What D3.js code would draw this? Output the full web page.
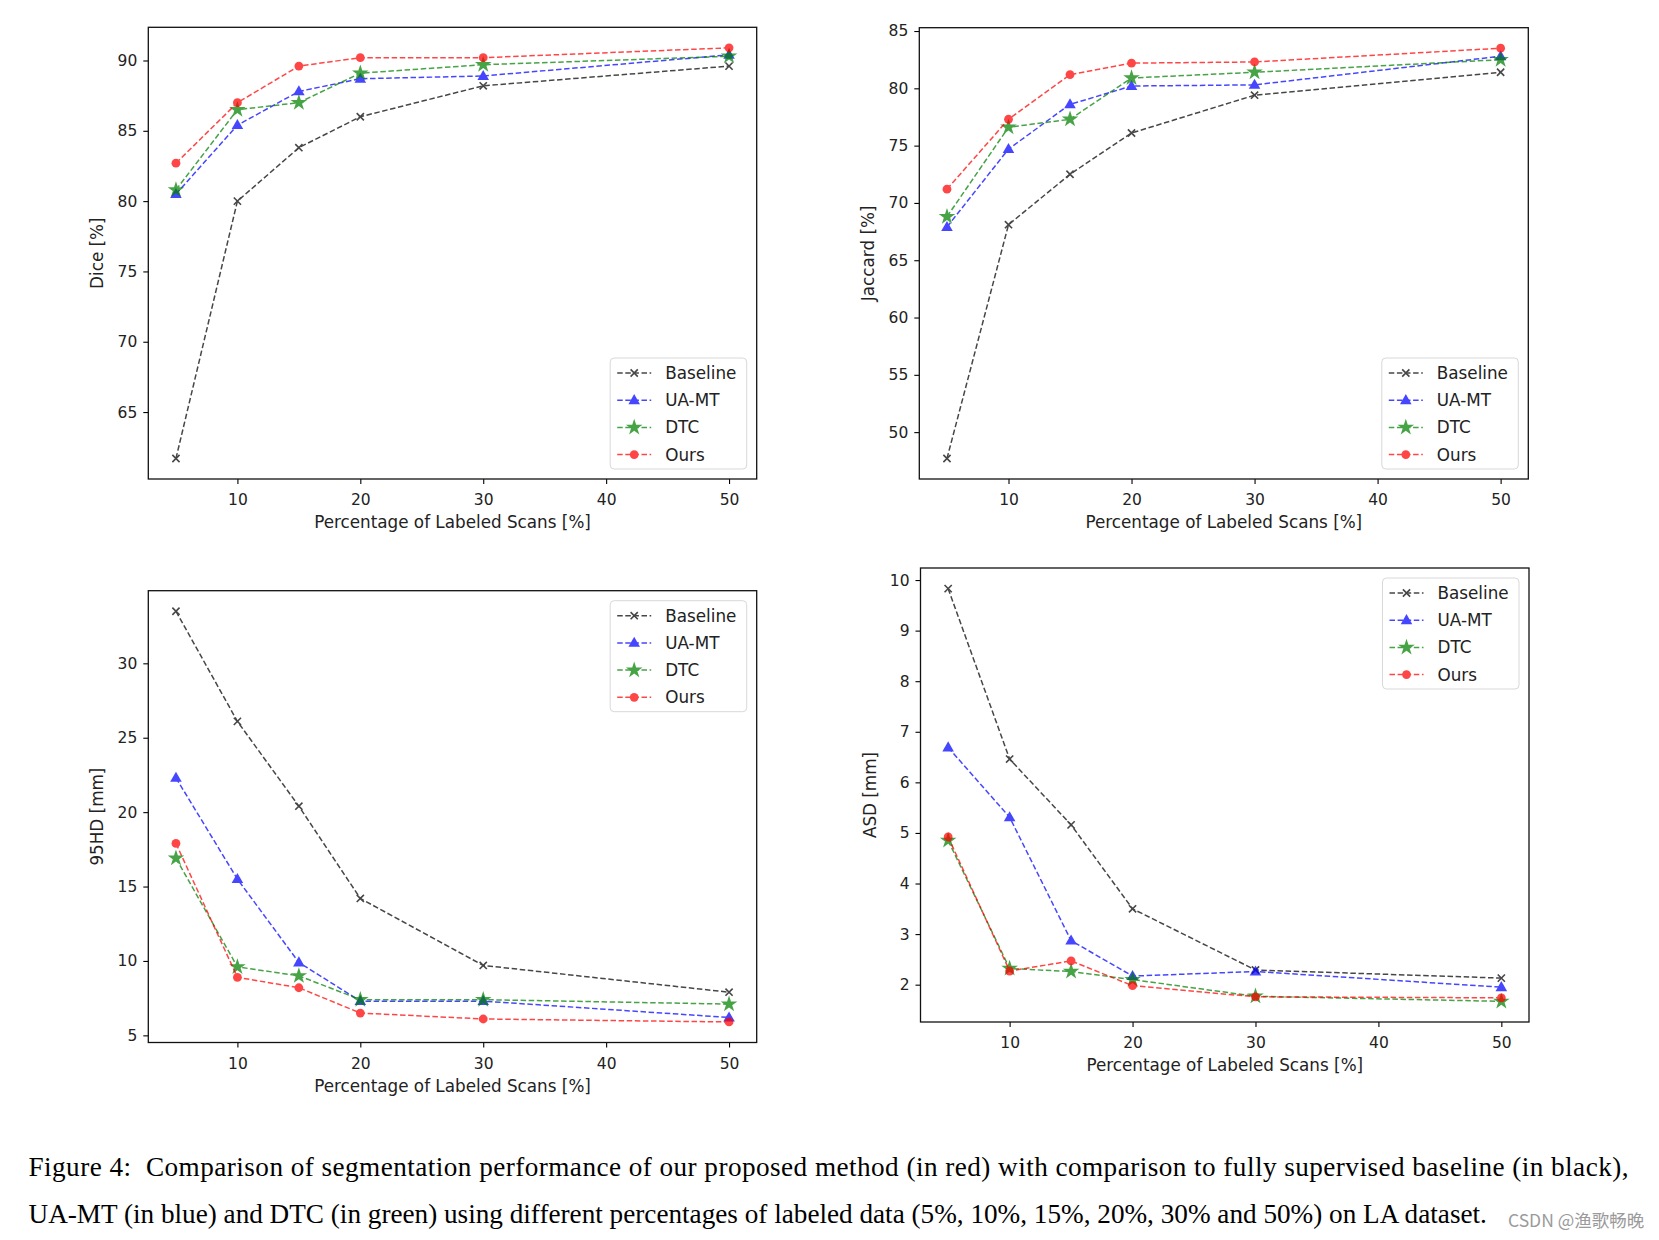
<!DOCTYPE html>
<html>
<head>
<meta charset="utf-8">
<script src="https://cdn.jsdelivr.net/npm/d3@7"></script>
<style>
  html, body { margin: 0; padding: 0; background: #fff; }
  svg { display: block; }
</style>
</head>
<body>
<svg id="chart" width="1659" height="1240"></svg>
<script>
// ---------------- DATA ----------------
const xValues = [5, 10, 15, 20, 30, 50];
const xTicks = [10, 20, 30, 40, 50];
const seriesNames = ["Baseline", "UA-MT", "DTC", "Ours"];

const diceBaseline = [61.7, 80.0, 83.8, 86.0, 88.2, 89.6];
const diceUAMT     = [80.5, 85.4, 87.8, 88.7, 88.9, 90.4];
const diceDTC      = [80.8, 86.5, 87.0, 89.1, 89.7, 90.3];
const diceOurs     = [82.7, 87.0, 89.6, 90.2, 90.2, 90.9];
const diceTicks    = [65, 70, 75, 80, 85, 90];

const jacBaseline = [47.7, 68.1, 72.5, 76.1, 79.4, 81.4];
const jacUAMT     = [67.9, 74.7, 78.6, 80.2, 80.3, 82.8];
const jacDTC      = [68.8, 76.6, 77.3, 80.9, 81.4, 82.5];
const jacOurs     = [71.2, 77.3, 81.2, 82.2, 82.3, 83.5];
const jacTicks    = [50, 55, 60, 65, 70, 75, 80, 85];

const hdBaseline = [33.5, 26.1, 20.4, 14.2, 9.7, 7.9];
const hdUAMT     = [22.3, 15.5, 9.9, 7.3, 7.3, 6.2];
const hdDTC      = [16.9, 9.6, 9.0, 7.4, 7.4, 7.1];
const hdOurs     = [17.9, 8.9, 8.2, 6.5, 6.1, 5.9];
const hdTicks    = [5, 10, 15, 20, 25, 30];

const asdBaseline = [9.83, 6.46, 5.16, 3.50, 2.29, 2.13];
const asdUAMT     = [6.69, 5.31, 2.87, 2.17, 2.26, 1.95];
const asdDTC      = [4.85, 2.32, 2.26, 2.10, 1.77, 1.67];
const asdOurs     = [4.92, 2.27, 2.47, 1.98, 1.76, 1.74];
const asdTicks    = [2, 3, 4, 5, 6, 7, 8, 9, 10];

const xLabel = "Percentage of Labeled Scans [%]";
const captionLine1 = "Figure 4:  Comparison of segmentation performance of our proposed method (in red) with comparison to fully supervised baseline (in black),";
const captionLine2 = "UA-MT (in blue) and DTC (in green) using different percentages of labeled data (5%, 10%, 15%, 20%, 30% and 50%) on LA dataset.";
const watermark = "CSDN @渔歌畅晚";

// ---------------- STYLE ----------------
const styles = [
  { color: "#000000", marker: "x" },
  { color: "#0000ff", marker: "tri" },
  { color: "#008000", marker: "star" },
  { color: "#ff0000", marker: "circle" }
];

const panels = [
  { box: [148.3, 27.3, 756.7, 479], yLabel: "Dice [%]", series: [diceBaseline, diceUAMT, diceDTC, diceOurs], yTicks: diceTicks, legend: "br" },
  { box: [919.3, 27.7, 1528.3, 479], yLabel: "Jaccard [%]", series: [jacBaseline, jacUAMT, jacDTC, jacOurs], yTicks: jacTicks, legend: "br" },
  { box: [148.3, 590.7, 756.7, 1042.5], yLabel: "95HD [mm]", series: [hdBaseline, hdUAMT, hdDTC, hdOurs], yTicks: hdTicks, legend: "tr" },
  { box: [920.5, 568, 1529, 1022], yLabel: "ASD [mm]", series: [asdBaseline, asdUAMT, asdDTC, asdOurs], yTicks: asdTicks, legend: "tr" }
];

const svg = d3.select("#chart");
const FONT = "'DejaVu Sans', Verdana, sans-serif";

function drawMarker(g, type, x, y, color) {
  if (type === "x") {
    const s = 3.6;
    g.append("path")
      .attr("d", `M${x - s},${y - s}L${x + s},${y + s}M${x - s},${y + s}L${x + s},${y - s}`)
      .attr("stroke", color).attr("stroke-width", 1.6).attr("fill", "none");
  } else if (type === "tri") {
    g.append("path")
      .attr("d", d3.symbol().type(d3.symbolTriangle).size(58)())
      .attr("transform", `translate(${x},${y + 0.6})`)
      .attr("fill", color);
  } else if (type === "star") {
    g.append("path")
      .attr("d", d3.symbol().type(d3.symbolStar).size(85)())
      .attr("transform", `translate(${x},${y})`)
      .attr("fill", color);
  } else {
    g.append("circle").attr("cx", x).attr("cy", y).attr("r", 4.4).attr("fill", color);
  }
}

panels.forEach(p => {
  const [L, T, R, B] = p.box;
  const all = p.series.flat();
  const mn = d3.min(all), mx = d3.max(all);
  const pad = (mx - mn) * 0.05;
  const xPad = (d3.max(xValues) - d3.min(xValues)) * 0.05;
  const x = d3.scaleLinear().domain([d3.min(xValues) - xPad, d3.max(xValues) + xPad]).range([L, R]);
  const y = d3.scaleLinear().domain([mn - pad, mx + pad]).range([B, T]);

  const g = svg.append("g");

  // axes
  const xAxis = d3.axisBottom(x).tickValues(xTicks).tickSize(5).tickPadding(10).tickFormat(d3.format("d"));
  const yAxis = d3.axisLeft(y).tickValues(p.yTicks).tickSize(5).tickPadding(6).tickFormat(d3.format("d"));
  const gx = g.append("g").attr("transform", `translate(0,${B})`).call(xAxis);
  const gy = g.append("g").attr("transform", `translate(${L},0)`).call(yAxis);
  [gx, gy].forEach(a => {
    a.select(".domain").remove();
    a.selectAll(".tick line").attr("stroke", "#000").attr("stroke-width", 1.1);
    a.selectAll(".tick text").attr("font-family", FONT).attr("font-size", 15.5).attr("fill", "#222");
  });

  // frame
  g.append("rect").attr("x", L).attr("y", T).attr("width", R - L).attr("height", B - T)
    .attr("fill", "none").attr("stroke", "#111").attr("stroke-width", 1.3);

  // lines & markers
  const line = d3.line().x((d, i) => x(xValues[i])).y(d => y(d));
  p.series.forEach((vals, si) => {
    const st = styles[si];
    const sg = g.append("g").attr("opacity", 0.72);
    sg.append("path").attr("d", line(vals)).attr("fill", "none")
      .attr("stroke", st.color).attr("stroke-width", 1.5).attr("stroke-dasharray", "5.5,2.6");
    vals.forEach((v, i) => drawMarker(sg, st.marker, x(xValues[i]), y(v), st.color));
  });

  // axis labels
  g.append("text").attr("x", (L + R) / 2).attr("y", B + 49).attr("text-anchor", "middle")
    .attr("font-family", FONT).attr("font-size", 16.8).attr("fill", "#222").text(xLabel);
  g.append("text").attr("transform", `translate(${L - 51},${(T + B) / 2}) rotate(-90)`)
    .attr("text-anchor", "middle").attr("dominant-baseline", "central")
    .attr("font-family", FONT).attr("font-size", 16.8).attr("fill", "#222").text(p.yLabel);

  // legend
  const lw = 136.5, lh = 111;
  const lx = R - 10 - lw;
  const ly = p.legend === "br" ? B - 10 - lh : T + 10;
  const lg = g.append("g").attr("transform", `translate(${lx},${ly})`);
  lg.append("rect").attr("width", lw).attr("height", lh).attr("rx", 4).attr("ry", 4)
    .attr("fill", "#fff").attr("fill-opacity", 0.85).attr("stroke", "#d8d8d8").attr("stroke-width", 1);
  seriesNames.forEach((name, si) => {
    const cy = 15 + si * 27.2;
    const st = styles[si];
    const eg = lg.append("g").attr("opacity", 0.72);
    eg.append("line").attr("x1", 7).attr("x2", 41).attr("y1", cy).attr("y2", cy)
      .attr("stroke", st.color).attr("stroke-width", 1.5).attr("stroke-dasharray", "5.5,2.6");
    drawMarker(eg, st.marker, 24, cy, st.color);
    lg.append("text").attr("x", 55).attr("y", cy).attr("dominant-baseline", "central")
      .attr("font-family", FONT).attr("font-size", 16.8).attr("fill", "#222").text(name);
  });
});

// caption
svg.append("text").attr("x", 28.5).attr("y", 1176)
  .attr("font-family", "'Liberation Serif', 'Times New Roman', serif").attr("font-size", 27.2).attr("fill", "#000")
  .attr("textLength", 1600).attr("lengthAdjust", "spacing").attr("xml:space", "preserve").text(captionLine1);
svg.append("text").attr("x", 28.5).attr("y", 1223)
  .attr("font-family", "'Liberation Serif', 'Times New Roman', serif").attr("font-size", 27.2).attr("fill", "#000")
  .text(captionLine2);
svg.append("text").attr("x", 1508).attr("y", 1227)
  .attr("font-family", "'Noto Sans CJK SC', 'Noto Sans', sans-serif").attr("font-size", 17.5).attr("fill", "#9a9a9a")
  .text(watermark);
</script>
</body>
</html>
